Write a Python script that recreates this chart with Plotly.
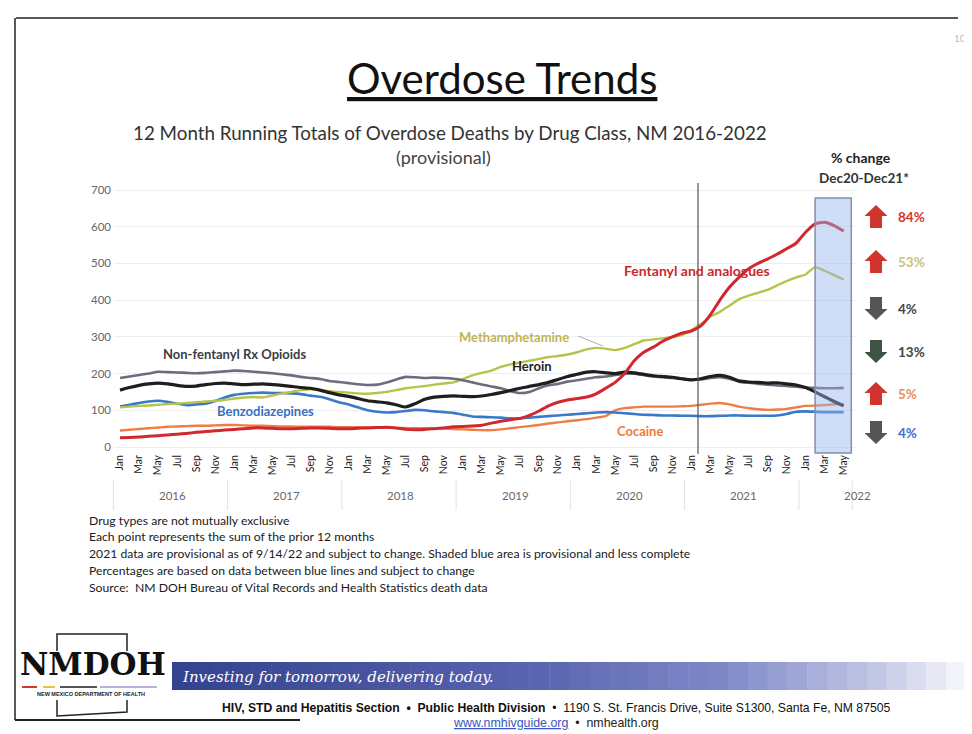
import plotly.graph_objects as go

# ---------------- data ----------------
# month index: 0 = Jan 2016 ... 76 = May 2022
months = list(range(77))

fentanyl = [25, 26, 27, 29, 31, 33, 35, 37, 40, 42, 44, 46,
            48, 50, 52, 52, 51, 50, 50, 51, 52, 52, 51, 50,
            50, 51, 52, 53, 54, 52, 48, 47, 48, 50, 52, 55,
            56, 57, 59, 65, 70, 74, 78, 86, 98, 112, 122, 128,
            132, 136, 145, 160, 176, 200, 235, 258, 272, 288, 300, 310,
            316, 330, 360, 400, 435, 462, 485, 500, 512, 525, 540, 555,
            585, 608, 612, 603, 588]

meth = [108, 110, 112, 113, 115, 117, 118, 120, 122, 124, 126, 128,
        132, 135, 136, 135, 140, 146, 150, 155, 157, 155, 152, 150,
        148, 146, 145, 147, 150, 155, 160, 163, 166, 170, 173, 176,
        185, 195, 202, 208, 218, 225, 230, 235, 240, 245, 248, 252,
        258, 266, 270, 268, 264, 270, 280, 290, 293, 296, 300, 305,
        318, 335, 355, 368, 385, 402, 412, 420, 428, 440, 452, 462,
        470, 490, 480, 468, 456]

heroin = [155, 162, 168, 172, 174, 172, 168, 165, 166, 170, 173, 174,
          172, 170, 171, 172, 170, 168, 165, 162, 160, 155, 148, 142,
          138, 132, 126, 123, 120, 115, 109, 118, 130, 136, 138, 139,
          138, 137, 139, 143, 148, 154, 160, 165, 170, 176, 184, 192,
          198, 204, 205, 202, 200, 204, 202, 198, 194, 192, 190, 186,
          183, 186, 192, 195, 190, 180, 177, 176, 174, 175, 172, 169,
          162, 150, 137, 124, 112]

rx_opioids = [188, 192, 196, 200, 205, 204, 203, 202, 201, 202, 204, 206,
              208, 207, 205, 203, 201, 198, 195, 191, 188, 185, 180, 177,
              174, 171, 169, 170, 176, 184, 191, 190, 188, 189, 188, 186,
              182, 176, 170, 165, 160, 152, 147, 150, 160, 168, 172, 178,
              182, 186, 190, 192, 196, 200, 200, 196, 192, 190, 188, 186,
              183, 184, 188, 190, 186, 178, 175, 172, 170, 168, 166, 164,
              162, 161, 160, 160, 161]

benzo = [110, 115, 120, 124, 126, 123, 118, 114, 116, 118, 125, 135,
         142, 145, 147, 148, 147, 147, 146, 144, 140, 137, 130, 122,
         116, 108, 100, 96, 94, 95, 98, 101, 100, 97, 95, 93,
         88, 83, 82, 81, 80, 78, 78, 80, 82, 84, 86, 88,
         90, 92, 94, 95, 94, 92, 90, 88, 87, 86, 86, 85,
         85, 84, 84, 85, 86, 86, 85, 85, 85, 86, 90, 96,
         97, 96, 95, 95, 95]

cocaine = [45, 47, 49, 51, 53, 55, 56, 57, 58, 58, 59, 60,
           60, 59, 58, 58, 57, 56, 56, 55, 55, 55, 55, 54,
           54, 54, 53, 53, 52, 52, 52, 51, 51, 50, 50, 49,
           48, 47, 46, 46, 48, 51, 54, 57, 60, 64, 67, 70,
           73, 76, 80, 84, 100, 106, 108, 110, 110, 110, 110, 111,
           112, 115, 118, 120, 116, 110, 106, 103, 101, 102, 104, 108,
           112, 113, 114, 116, 117]

month_names = ["Jan", "Mar", "May", "Jul", "Sep", "Nov"]
tick_vals = list(range(0, 77, 2))
tick_text = [month_names[(v % 12) // 2] for v in tick_vals]
years = ["2016", "2017", "2018", "2019", "2020", "2021", "2022"]
y_ticks = [0, 100, 200, 300, 400, 500, 600, 700]

pct_labels = ["84%", "53%", "4%", "13%", "5%", "4%"]
pct_dirs = ["up", "up", "down", "down", "up", "down"]
pct_text_colors = ["#d8352a", "#c9c27a", "#444444", "#444444", "#f08a5a", "#3a6fd0"]
pct_arrow_colors = ["#d0342c", "#d0342c", "#555555", "#3d5445", "#d0342c", "#555555"]

notes = [
    "Drug types are not mutually exclusive",
    "Each point represents the sum of the prior 12 months",
    "2021 data are provisional as of 9/14/22 and subject to change. Shaded blue area is provisional and less complete",
    "Percentages are based on data between blue lines and subject to change",
    "Source:  NM DOH Bureau of Vital Records and Health Statistics death data",
]

# ---------------- geometry helpers (window pixel coords) ----------------
OFF = 8                      # page body margin
W_FIG, H_FIG = 972 - OFF, 734 - OFF
PL, PR, PT, PB = 114, 857, 186, 452          # plot area in window pixels
ML, MT = PL - OFF, PT - OFF
MR, MB = 972 - PR, 734 - PB
PW, PH = PR - PL, PB - PT
XR = [-0.63, 77.4]
YR = [-13.6, 710.9]


def px(x):
    return (x - PL) / PW


def py(y):
    return (PB - y) / PH


def mx(m):
    return (m - XR[0]) / (XR[1] - XR[0])


FONT = "Lato"

fig = go.Figure()

series = [
    ("Cocaine", cocaine, "#f07d45", 2.4),
    ("Benzodiazepines", benzo, "#3a78c8", 2.6),
    ("Methamphetamine", meth, "#b9c24a", 2.4),
    ("Non-fentanyl Rx Opioids", rx_opioids, "#6e6b7c", 2.6),
    ("Heroin", heroin, "#1e1e1e", 3.2),
    ("Fentanyl and analogues", fentanyl, "#d0282e", 3.0),
]
for name, vals, col, w in series:
    fig.add_trace(go.Scatter(x=months, y=vals, mode="lines", name=name,
                             line=dict(color=col, width=w, shape="spline", smoothing=0.5),
                             hoverinfo="skip"))

shapes = []
annotations = []


def note(x, y, text, size, color, family=FONT, xanchor="center", yanchor="middle"):
    annotations.append(dict(x=px(x), y=py(y), xref="paper", yref="paper",
                            xanchor=xanchor, yanchor=yanchor, text=text, showarrow=False,
                            font=dict(family=family, size=size, color=color)))


# shaded provisional area
shapes.append(dict(type="rect", xref="paper", yref="paper",
                   x0=mx(73.0), x1=mx(76.8), y0=py(453), y1=py(198),
                   fillcolor="rgba(150,180,235,0.45)",
                   line=dict(color="#8090aa", width=1.5), layer="above"))
# vertical reference line
shapes.append(dict(type="line", xref="paper", yref="paper",
                   x0=mx(60.7), x1=mx(60.7), y0=py(454), y1=py(183),
                   line=dict(color="#555555", width=1.2)))
# meth leader line
shapes.append(dict(type="line", xref="paper", yref="paper",
                   x0=px(578), x1=px(603), y0=py(336), y1=py(346),
                   line=dict(color="#999999", width=0.8)))

# year separators and labels
for i, yr in enumerate(years):
    sep_m = 12 * i - 0.7
    shapes.append(dict(type="line", xref="paper", yref="paper",
                       x0=mx(sep_m), x1=mx(sep_m), y0=py(480), y1=py(510),
                       line=dict(color="#e2e2e2", width=1)))
    cm = 12 * i + 5.5 if i < 6 else 77.5
    annotations.append(dict(x=mx(cm), y=py(495), xref="paper", yref="paper",
                            xanchor="center", yanchor="middle",
                            text=yr, showarrow=False,
                            font=dict(family=FONT, size=11.5, color="#6a6a6a")))
shapes.append(dict(type="line", xref="paper", yref="paper",
                   x0=mx(76.9), x1=mx(76.9), y0=py(480), y1=py(510),
                   line=dict(color="#e2e2e2", width=1)))

# series labels (data coords)
series_labels = [
    ("Non-fentanyl Rx Opioids", 12.0, 253, "#3c3c46", 13),
    ("Benzodiazepines", 15.3, 98, "#3a70c0", 13),
    ("Methamphetamine", 41.4, 300, "#c2b454", 13),
    ("Heroin", 43.3, 220, "#222222", 13),
    ("Fentanyl and analogues", 60.6, 481, "#c8282e", 14),
    ("Cocaine", 54.6, 44, "#f07a3c", 13),
]
for txt, xm, yv, col, sz in series_labels:
    annotations.append(dict(x=xm, y=yv, xref="x", yref="y", text="<b>%s</b>" % txt,
                            xanchor="center", yanchor="middle", showarrow=False,
                            font=dict(family=FONT, size=sz, color=col)))

# title texts
note(502, 78, "<u>Overdose Trends</u>", 42, "#111111")
note(450, 132, "12 Month Running Totals of Overdose Deaths by Drug Class, NM 2016-2022", 18.8, "#333333")
note(443, 157, "(provisional)", 18, "#444444")
note(861, 158, "<b>% change</b>", 14, "#222222")
note(864, 178, "<b>Dec20-Dec21*</b>", 13.5, "#333333")

# percent-change arrows
arrow_tops = [205, 250, 297, 340, 382, 421]
for i, lab in enumerate(pct_labels):
    top = arrow_tops[i]
    bot = top + 23
    cx, w, sw = 876, 23, 6
    if pct_dirs[i] == "up":
        mid = top + 11
        pts = [(cx, top), (cx + w / 2, mid), (cx + sw, mid), (cx + sw, bot),
               (cx - sw, bot), (cx - sw, mid), (cx - w / 2, mid)]
    else:
        mid = bot - 11
        pts = [(cx, bot), (cx + w / 2, mid), (cx + sw, mid), (cx + sw, top),
               (cx - sw, top), (cx - sw, mid), (cx - w / 2, mid)]
    path = "M " + " L ".join("%.5f,%.5f" % (px(a), py(b)) for a, b in pts) + " Z"
    shapes.append(dict(type="path", xref="paper", yref="paper", path=path,
                       fillcolor=pct_arrow_colors[i], line=dict(width=0)))
    note(896, top + 12, "<b>%s</b>" % lab, 13.5, pct_text_colors[i], xanchor="left")

# notes
note_y = [520, 536, 553, 570, 587]
for t, yy in zip(notes, note_y):
    note(87, yy, t, 12.2, "#1a1a1a", xanchor="left")

# slide border
shapes.append(dict(type="line", xref="paper", yref="paper",
                   x0=px(16), x1=px(958), y0=py(18), y1=py(18),
                   line=dict(color="#222222", width=1.5)))
shapes.append(dict(type="line", xref="paper", yref="paper",
                   x0=px(15), x1=px(15), y0=py(18), y1=py(720),
                   line=dict(color="#222222", width=1.5)))
shapes.append(dict(type="line", xref="paper", yref="paper",
                   x0=px(15), x1=px(300), y0=py(720), y1=py(720),
                   line=dict(color="#222222", width=2)))
note(960, 38, "10", 10, "#bbbbbb")

# footer banner gradient
n_seg = 40
x_start, x_end = 172, 966
stops = [(0.0, (52, 66, 140)), (0.45, (88, 100, 176)), (0.7, (128, 138, 200)),
         (0.9, (200, 204, 232)), (1.0, (250, 250, 252))]


def grad(t):
    for (t0, c0), (t1, c1) in zip(stops[:-1], stops[1:]):
        if t <= t1:
            f = (t - t0) / (t1 - t0)
            return "rgb(%d,%d,%d)" % tuple(int(c0[k] + f * (c1[k] - c0[k])) for k in range(3))
    return "rgb(250,250,252)"


for i in range(n_seg):
    xa = x_start + (x_end - x_start) * i / n_seg
    xb = x_start + (x_end - x_start) * (i + 1) / n_seg + 0.5
    shapes.append(dict(type="rect", xref="paper", yref="paper",
                       x0=px(xa), x1=px(xb), y0=py(690), y1=py(662),
                       fillcolor=grad((i + 0.5) / n_seg), line=dict(width=0)))
note(180, 677, "<i>Investing for tomorrow, delivering today.</i>", 15, "#ffffff",
     family="DejaVu Serif", xanchor="left")

# NMDOH logo
note(93, 664, "<b>NMDOH</b>", 31, "#111111", family="DejaVu Serif")
for (a, b, c) in [(22, 37, "#d23a30"), (43, 55, "#e8c43a"), (60, 97, "#555555"), (100, 157, "#b8b0d8")]:
    shapes.append(dict(type="line", xref="paper", yref="paper",
                       x0=px(a), x1=px(b), y0=py(687), y1=py(687),
                       line=dict(color=c, width=2)))
note(91, 694, "<b>NEW MEXICO DEPARTMENT OF HEALTH</b>", 5.5, "#222222", family="Liberation Sans")
bracket_top = [(57, 651), (57, 634), (127, 634), (127, 651)]
bracket_bot = [(57, 700), (57, 716), (127, 712), (127, 700)]
for br in (bracket_top, bracket_bot):
    path = "M " + " L ".join("%.5f,%.5f" % (px(a), py(b)) for a, b in br)
    shapes.append(dict(type="path", xref="paper", yref="paper", path=path,
                       line=dict(color="#222222", width=1.5)))

note(556, 708, "<b>HIV, STD and Hepatitis Section  •  Public Health Division</b>  •  "
     "1190 S. St. Francis Drive, Suite S1300, Santa Fe, NM 87505",
     12.2, "#111111", family="Liberation Sans")
note(556, 723, "<span style='color:#3a55c0'><u>www.nmhivguide.org</u></span>  •  nmhealth.org",
     12.4, "#222222", family="Liberation Sans")

fig.update_layout(
    width=W_FIG, height=H_FIG,
    margin=dict(l=ML, r=MR, t=MT, b=MB, autoexpand=False),
    paper_bgcolor="white", plot_bgcolor="white",
    showlegend=False,
    shapes=shapes, annotations=annotations,
    xaxis=dict(range=XR, tickmode="array", tickvals=tick_vals, ticktext=tick_text,
               tickangle=-90, showgrid=False, zeroline=False, showline=False,
               ticks="", tickfont=dict(family=FONT, size=10.5, color="#222222")),
    yaxis=dict(range=YR, tickmode="array", tickvals=y_ticks,
               showgrid=True, gridcolor="#eeeeee", gridwidth=1, zeroline=False,
               showline=False, ticks="", ticklabelstandoff=2,
               tickfont=dict(family=FONT, size=11.5, color="#666666")),
)

fig.write_html("out.html")
